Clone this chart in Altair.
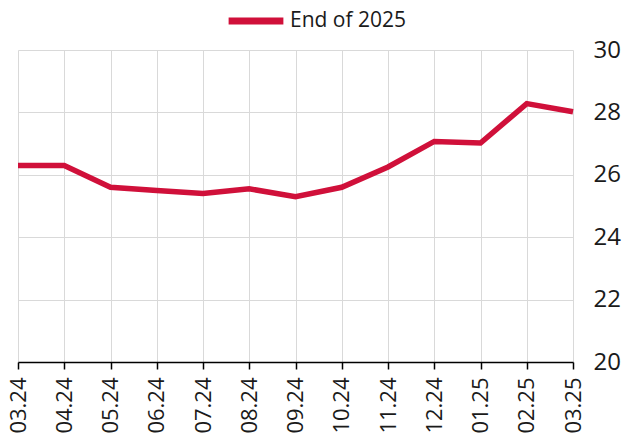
import altair as alt
import pandas as pd

months = ["03.24", "04.24", "05.24", "06.24", "07.24", "08.24", "09.24",
          "10.24", "11.24", "12.24", "01.25", "02.25", "03.25"]
values = [26.3, 26.3, 25.6, 25.5, 25.4, 25.55, 25.3, 25.6, 26.25, 27.07, 27.02, 28.28, 28.02]
series = ["End of 2025"] * len(months)

df = pd.DataFrame({"month": months, "value": values, "series": series})

chart = alt.Chart(df).mark_line(strokeWidth=5.5, strokeJoin="miter").encode(
    x=alt.X("month:O", sort=months, scale=alt.Scale(type="point", padding=0),
            axis=alt.Axis(title=None, labelAngle=-90, labelAlign="right", labelBaseline="middle",
                          labelFontSize=22, labelColor="#1a1a1a", labelPadding=8,
                          tickSize=7, tickColor="#000000", tickWidth=1.5,
                          domainColor="#000000", domainWidth=1.5,
                          grid=True, gridColor="#d9d9d9", gridWidth=1)),
    y=alt.Y("value:Q", scale=alt.Scale(domain=[20, 30], nice=False, zero=False),
            axis=alt.Axis(title=None, orient="right", values=[20, 22, 24, 26, 28, 30],
                          labelFontSize=24, labelColor="#1a1a1a", labelPadding=20,
                          ticks=False, domain=False, grid=True, gridColor="#d9d9d9", gridWidth=1)),
    color=alt.Color("series:N", scale=alt.Scale(range=["#d0103a"]),
                    legend=alt.Legend(title=None, orient="none", legendX=207, legendY=-60,
                                      symbolType="stroke", symbolStrokeWidth=7, symbolSize=3000,
                                      labelFontSize=21, labelColor="#1a1a1a", labelOffset=3)),
).properties(
    width=555, height=312,
    autosize=alt.AutoSizeParams(type="none"),
    padding={"left": 10, "top": 42, "right": 49, "bottom": 76},
).configure(font="Open Sans").configure_view(strokeWidth=0)

chart.save("out.html", embed_options={"renderer": "svg", "actions": False})
